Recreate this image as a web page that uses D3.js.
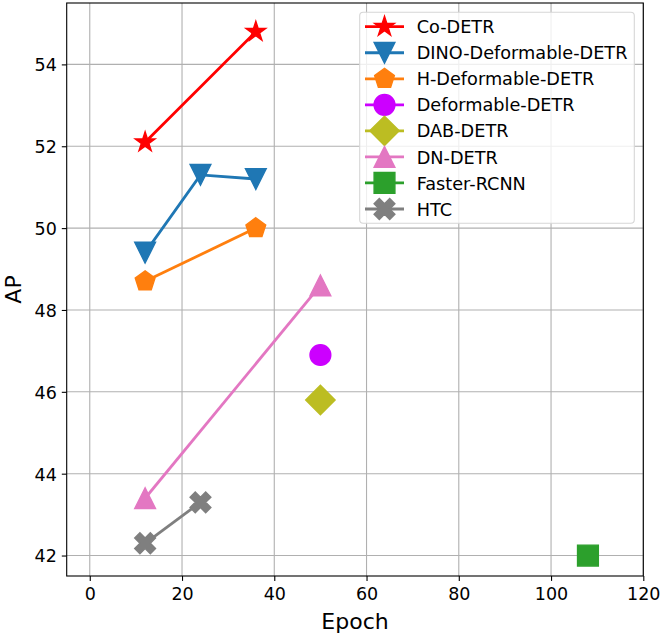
<!DOCTYPE html>
<html>
<head>
<meta charset="utf-8">
<script src="https://cdn.jsdelivr.net/npm/d3@7"></script>
<style>
  body { margin: 0; background: #fff; }
  svg { display: block; font-family: "DejaVu Sans", sans-serif; }
</style>
</head>
<body>
<svg id="chart" width="665" height="637"></svg>
<script>
// values
const names = ["Co-DETR", "DINO-Deformable-DETR", "H-Deformable-DETR", "Deformable-DETR",
               "DAB-DETR", "DN-DETR", "Faster-RCNN", "HTC"];
const epochs = [[12, 36], [12, 24, 36], [12, 36], [50], [50], [12, 50], [108], [12, 24]];
const apValues = [[52.1, 54.8], [49.4, 51.3, 51.2], [48.7, 50.0], [46.9], [45.8], [43.4, 48.6], [42.0], [42.3, 43.3]];
const xTicks = [0, 20, 40, 60, 80, 100, 120];
const yTicks = [42, 44, 46, 48, 50, 52, 54];

// styling
const colors = ["#ff0000", "#1f77b4", "#ff7f0e", "#cc00ff", "#bcbd22", "#e377c2", "#2ca02c", "#7f7f7f"];
const shapes = ["star", "tridown", "pentagon", "circle", "diamond", "triup", "square", "xfilled"];

var margin = { left: 66.7, top: 3, right: 665 - 643.3, bottom: 637 - 576 };
var width = 665 - margin.left - margin.right;
var height = 637 - margin.top - margin.bottom;
var msize = 20.8;
var lineW = 2.8;

var svg = d3.select("#chart");
var g = svg.append("g")
    .attr("transform", "translate(" + margin.left + "," + margin.top + ")");

var x = d3.scaleLinear().domain([-5, 120]).range([0, width]);
var y = d3.scaleLinear().domain([41.5, 55.5]).range([height, 0]);

function markerPath(shape, s) {
    var h = s / 2, pts;
    if (shape === "circle") {
        return "M" + h + ",0A" + h + "," + h + " 0 1,1 " + (-h) + ",0A" + h + "," + h + " 0 1,1 " + h + ",0Z";
    }
    if (shape === "star") {
        pts = [];
        for (var i = 0; i < 10; i++) {
            var r = i % 2 === 0 ? h : h * 0.381966;
            var a = -Math.PI / 2 + i * Math.PI / 5;
            pts.push([r * Math.cos(a), r * Math.sin(a)]);
        }
    } else if (shape === "pentagon") {
        pts = [];
        for (var j = 0; j < 5; j++) {
            var b = -Math.PI / 2 + j * 2 * Math.PI / 5;
            pts.push([h * Math.cos(b), h * Math.sin(b)]);
        }
    } else if (shape === "tridown") {
        pts = [[0, h], [-h, -h], [h, -h]];
    } else if (shape === "triup") {
        pts = [[0, -h], [-h, h], [h, h]];
    } else if (shape === "diamond") {
        var d = s / Math.SQRT2;
        pts = [[0, -d], [d, 0], [0, d], [-d, 0]];
    } else if (shape === "square") {
        pts = [[-h, -h], [h, -h], [h, h], [-h, h]];
    } else if (shape === "xfilled") {
        pts = [[-1, -2], [0, -1], [1, -2], [2, -1], [1, 0], [2, 1],
               [1, 2], [0, 1], [-1, 2], [-2, 1], [-1, 0], [-2, -1]]
            .map(function(p) { return [p[0] * s / 4, p[1] * s / 4]; });
    }
    return "M" + pts.map(function(p) { return p[0].toFixed(2) + "," + p[1].toFixed(2); }).join("L") + "Z";
}

// grid
g.append("g").selectAll("line").data(xTicks).enter().append("line")
    .attr("x1", function(d) { return x(d); }).attr("x2", function(d) { return x(d); })
    .attr("y1", 0).attr("y2", height)
    .attr("stroke", "#b0b0b0").attr("stroke-width", 1.1);
g.append("g").selectAll("line").data(yTicks).enter().append("line")
    .attr("y1", function(d) { return y(d); }).attr("y2", function(d) { return y(d); })
    .attr("x1", 0).attr("x2", width)
    .attr("stroke", "#b0b0b0").attr("stroke-width", 1.1);

// axes
var xAxis = g.append("g")
    .attr("transform", "translate(0," + height + ")")
    .call(d3.axisBottom(x).tickValues(xTicks).tickSize(4.9).tickPadding(3));
var yAxis = g.append("g")
    .call(d3.axisLeft(y).tickValues(yTicks).tickSize(4.9).tickPadding(4.9));
[xAxis, yAxis].forEach(function(ax) {
    ax.select(".domain").remove();
    ax.selectAll(".tick line").attr("stroke", "#000").attr("stroke-width", 1.1);
    ax.selectAll(".tick text")
        .attr("fill", "#000")
        .style("font-size", "17.5px")
        .style("font-family", "DejaVu Sans");
});
xAxis.selectAll(".tick text").attr("dy", null).attr("y", 23.5);
yAxis.selectAll(".tick text").attr("dy", "0.365em");

// series
var line = d3.line()
    .x(function(d) { return x(d[0]); })
    .y(function(d) { return y(d[1]); });

names.forEach(function(name, i) {
    var pts = epochs[i].map(function(e, k) { return [e, apValues[i][k]]; });
    if (pts.length > 1) {
        g.append("path")
            .datum(pts)
            .attr("fill", "none")
            .attr("stroke", colors[i])
            .attr("stroke-width", lineW)
            .attr("d", line);
    }
    g.selectAll(null).data(pts).enter().append("path")
        .attr("transform", function(d) { return "translate(" + x(d[0]) + "," + y(d[1]) + ")"; })
        .attr("d", markerPath(shapes[i], msize))
        .attr("fill", colors[i])
        .attr("stroke", colors[i])
        .attr("stroke-width", 1.39)
        .attr("stroke-linejoin", "miter");
});

// frame
g.append("rect")
    .attr("width", width).attr("height", height)
    .attr("fill", "none").attr("stroke", "#000").attr("stroke-width", 1.1);

// axis labels
svg.append("text")
    .attr("x", margin.left + width / 2).attr("y", 629)
    .attr("text-anchor", "middle")
    .style("font-size", "22px")
    .text("Epoch");
svg.append("text")
    .attr("transform", "translate(20.7," + (margin.top + height / 2) + ") rotate(-90)")
    .attr("text-anchor", "middle")
    .style("font-size", "22px")
    .text("AP");

// legend
var lx = 359.7, ly = 12.3, lw = 634.3 - 359.7, lh = 223.3 - 12.3;
var legend = svg.append("g");
legend.append("rect")
    .attr("x", lx).attr("y", ly).attr("width", lw).attr("height", lh)
    .attr("rx", 3.5).attr("ry", 3.5)
    .attr("fill", "#fff").attr("fill-opacity", 0.8)
    .attr("stroke", "#d6d6d6").attr("stroke-width", 1.1);

var rowY = d3.scalePoint().domain(names).range([26.7, 209]);
names.forEach(function(name, i) {
    var cy = rowY(name);
    legend.append("line")
        .attr("x1", 365).attr("x2", 404).attr("y1", cy).attr("y2", cy)
        .attr("stroke", colors[i]).attr("stroke-width", lineW);
    legend.append("path")
        .attr("transform", "translate(384.5," + cy + ")")
        .attr("d", markerPath(shapes[i], msize))
        .attr("fill", colors[i])
        .attr("stroke", colors[i])
        .attr("stroke-width", 1.39);
    legend.append("text")
        .attr("x", 416.7).attr("y", cy + 6.6)
        .style("font-size", "17.7px")
        .text(name);
});
</script>
</body>
</html>
